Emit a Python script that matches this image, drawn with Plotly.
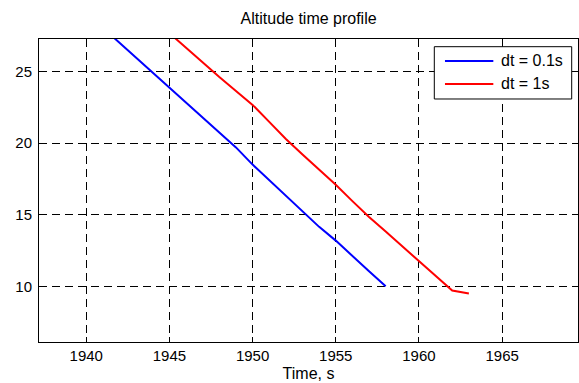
import plotly.graph_objects as go

# Altitude vs. time for two integration step sizes
t_fine = [1941, 1942, 1943, 1944, 1945, 1946, 1947, 1948, 1949, 1950,
          1951, 1952, 1953, 1954, 1955, 1956, 1957, 1958]
alt_fine = [28.05, 27.0, 25.95, 24.9, 23.88, 22.8, 21.8, 20.75, 19.7, 18.5,
            17.4, 16.3, 15.2, 14.15, 13.19, 12.1, 11.05, 10.0]

t_coarse = [1945, 1946, 1947, 1948, 1949, 1950, 1951, 1952, 1953, 1954,
            1955, 1956, 1957, 1958, 1959, 1960, 1961, 1962, 1963]
alt_coarse = [27.68, 26.65, 25.62, 24.61, 23.64, 22.67, 21.48, 20.29, 19.2, 18.14,
              17.09, 15.95, 14.84, 13.82, 12.8, 11.79, 10.75, 9.7, 9.49]

series_names = ["dt = 0.1s", "dt = 1s"]
series_colors = ["#0000FF", "#FF0000"]

x_ticks = [1940, 1945, 1950, 1955, 1960, 1965]
y_ticks = [10, 15, 20, 25]

FONT = "Liberation Sans, Arial, Helvetica, sans-serif"

fig = go.Figure()
fig.add_trace(go.Scatter(x=t_fine, y=alt_fine, mode="lines", name=series_names[0],
                         line=dict(color=series_colors[0], width=2), showlegend=False))
fig.add_trace(go.Scatter(x=t_coarse, y=alt_coarse, mode="lines", name=series_names[1],
                         line=dict(color=series_colors[1], width=2), showlegend=False))

axis_common = dict(
    showline=True, linecolor="black", linewidth=1, mirror="ticks",
    ticks="inside", ticklen=5, tickcolor="black", tickwidth=1,
    showgrid=True, gridcolor="black", gridwidth=1, griddash="8px,5px",
    zeroline=False, tickfont=dict(family=FONT, size=15, color="black"),
)

fig.update_xaxes(range=[1937.16, 1969.56], tickvals=x_ticks,
                 title=dict(text="Time, s", font=dict(family=FONT, size=16, color="black"),
                            standoff=4),
                 **axis_common)
fig.update_yaxes(range=[6.11, 27.27], tickvals=y_ticks, ticklabelstandoff=3,
                 **axis_common)

# Boxed legend in the upper-right corner of the axes (paper coordinates)
box_x0, box_x1, box_y0, box_y1 = 0.7334, 0.9883, 0.802, 0.9746
sample_x0, sample_x1, label_x = 0.7532, 0.8429, 0.8534
row_y = [0.9274, 0.8515]

shapes = [dict(type="rect", xref="paper", yref="paper",
               x0=box_x0, x1=box_x1, y0=box_y0, y1=box_y1,
               line=dict(color="black", width=1), fillcolor="white", layer="above")]
annotations = []
for name, color, y in zip(series_names, series_colors, row_y):
    shapes.append(dict(type="line", xref="paper", yref="paper",
                       x0=sample_x0, x1=sample_x1, y0=y, y1=y,
                       line=dict(color=color, width=2), layer="above"))
    annotations.append(dict(text=name, xref="paper", yref="paper", x=label_x, y=y,
                            xanchor="left", yanchor="middle", showarrow=False,
                            font=dict(family=FONT, size=16, color="black")))

fig.update_layout(
    width=579, height=383,
    margin=dict(l=39, r=1, t=39, b=41),
    paper_bgcolor="white", plot_bgcolor="white",
    title=dict(text="Altitude time profile", x=0.533, xanchor="center",
               y=0.951, yanchor="middle",
               font=dict(family=FONT, size=16, color="black")),
    shapes=shapes, annotations=annotations,
    showlegend=False,
)

fig.write_html("out.html")
